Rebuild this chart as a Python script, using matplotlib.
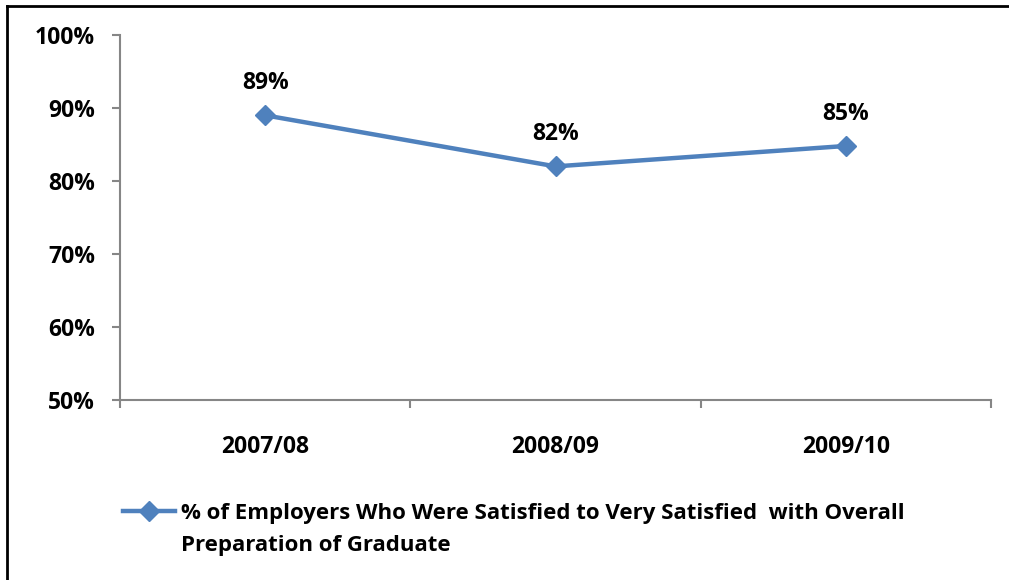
import matplotlib
matplotlib.use("Agg")
import matplotlib.pyplot as plt
from matplotlib.lines import Line2D

categories = ["2007/08", "2008/09", "2009/10"]
values = [89.0, 82.0, 84.8]
value_labels = ["89%", "82%", "85%"]
y_ticks = [50, 60, 70, 80, 90, 100]
series_line1 = "% of Employers Who Were Satisfied to Very Satisfied  with Overall"
series_line2 = "Preparation of Graduate"

plt.rcParams['font.family'] = ['Open Sans', 'DejaVu Sans']
FS = 16.5
LFS = 16
BLUE = "#4F81BD"
GRAY = "#868686"

fig = plt.figure(figsize=(10.09, 5.80), dpi=100)
ax = fig.add_axes([120/1009, 1-400/580, (991-120)/1009, 365/580])

x = list(range(len(categories)))
ax.plot(x, values, color=BLUE, lw=3.2, marker='D', markersize=10.5,
        markerfacecolor=BLUE, markeredgecolor=BLUE, zorder=3)
for xi, v, lab in zip(x, values, value_labels):
    ax.annotate(lab, (xi, v), xytext=(0, 23), textcoords='offset points',
                ha='center', va='center', fontsize=FS, fontweight='bold')

ax.set_xlim(-0.5, len(categories) - 0.5)
ax.set_ylim(50, 100)
ax.set_yticks(y_ticks)
ax.set_yticklabels([f"{t}%" for t in y_ticks], fontsize=FS, fontweight='bold')
ax.set_xticks(x)
ax.set_xticklabels(categories, fontsize=FS, fontweight='bold')
ax.set_xticks([i - 0.5 for i in range(len(categories) + 1)], minor=True)
ax.tick_params(axis='x', which='major', length=0, pad=25)
ax.tick_params(axis='x', which='minor', length=6, width=1.5, color=GRAY, direction='out')
ax.tick_params(axis='y', length=6, width=1.5, color=GRAY, direction='out', pad=12)

for s in ['top', 'right']:
    ax.spines[s].set_visible(False)
for s in ['left', 'bottom']:
    ax.spines[s].set_color(GRAY)
    ax.spines[s].set_linewidth(1.5)

handle = Line2D([], [], color=BLUE, lw=3.2, marker='D', markersize=10.5,
                markerfacecolor=BLUE, markeredgecolor=BLUE)
blank = Line2D([], [], color='none', lw=0)
fig.legend([handle, blank], [series_line1, series_line2], loc='upper left',
           bbox_to_anchor=(123/1009, 1-503/580), frameon=False,
           prop={'size': LFS, 'weight': 'bold'}, handlelength=2.35,
           handletextpad=0.27, borderaxespad=0, borderpad=0, labelspacing=0.5)

# outer frame lines (left and top)
fig.add_artist(Line2D([7/1009, 7/1009], [0, 1-6/580], transform=fig.transFigure,
                      color='black', lw=2))
fig.add_artist(Line2D([7/1009, 1], [1-6/580, 1-6/580], transform=fig.transFigure,
                      color='black', lw=2))

fig.savefig("out.png", dpi=100)
